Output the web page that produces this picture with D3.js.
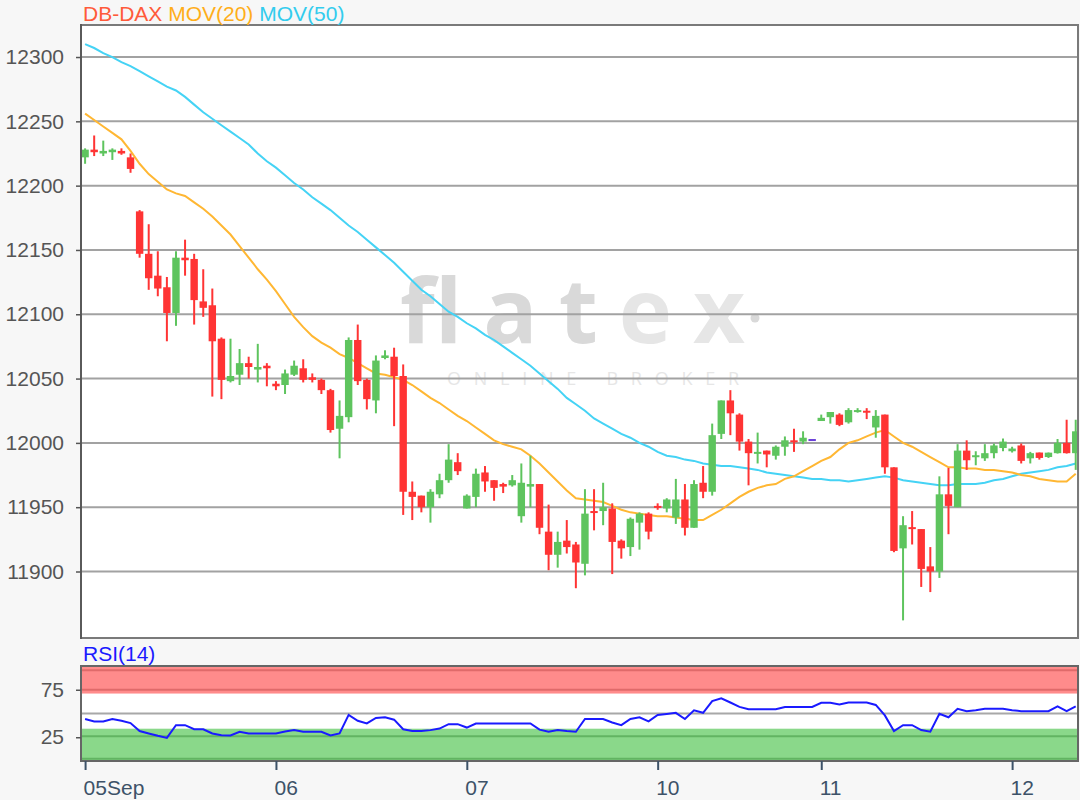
<!DOCTYPE html>
<html>
<head>
<meta charset="utf-8">
<script src="https://cdn.jsdelivr.net/npm/d3@7"></script>
<style>
body { margin: 0; background: #f7f7f7; }
svg { display: block; font-family: "Liberation Sans", Arial, sans-serif; }
</style>
</head>
<body>
<svg width="1080" height="800"></svg>
<script>
// half-hourly candles, DB-DAX 05-12 Sep
var opens = [
  12222,12228,12225,12226,12227,12222,12180,12147,12130,12121,
  12101,12144,12143,12110,12107,12081,12048,12053,12062,12057,
  12060,12046,12045,12053,12058,12051,12049,12041,12011,12020,
  12080,12049,12033,12066,12067,12052,11962,11959,11950,11960,
  11971,11985,11949,11958,11977,11971,11968,11967,11943,11966,
  11968,11931,11913,11924,11921,11906,11947,11947,11949,11924,
  11919,11938,11945,11951,11949,11942,11956,11934,11969,11962,
  12007,12033,12022,12001,11992,11994,11990,11997,12002,12001,
  12003,12017,12020,12022,12016,12024,12025,12012,12022,11981,
  11918,11934.5,11933,11904,11900,11960,11950,11994,11989,11988,
  11992,11996,11993.5,11998,11988,11992.5,11989,11992,12000,11992];
var highs = [
  12229,12239,12235,12229,12229,12225,12181,12170,12149,12129,
  12149,12158,12147,12135,12120,12082,12081,12073,12067,12077,
  12062,12048,12057,12064,12065,12054,12050,12042,12033,12082,
  12092,12050,12068,12072,12074,12061,11970,11959,11964,11976,
  11999,11992,11960,11980,11982,11971,11969,11975,11984,11990,
  11968,11952,11931,11940,11923,11964,11964,11969,11953,11925,
  11942,11946,11946,11953,11957,11972,11968,11971,11982,12015,
  12033,12041,12023,12003,12008,11994,11998,12005,12011,12009,
  12003,12022,12024,12023,12027,12027,12027,12025.5,12022,11981,
  11943,11947,11933,11919,11974,11980.5,11999,12002,11993.5,11999,
  11999.5,12003.4,11997,11999.5,11993,11992.5,11992.5,12003,12018,12018];
var lows = [
  12217,12223,12223,12220,12224,12210,12144,12119,12114,12079,
  12091,12130,12092,12098,12036,12034,12047,12045,12050,12047,
  12044,12041,12038,12052,12047,12047,12038,12008,11988,12016,
  12045,12026,12023,12065,12013,11944,11940,11946,11938,11957,
  11969,11975,11949,11950,11962,11955,11961,11966,11938,11950,
  11929,11901,11903,11914,11887,11897,11932,11936,11898,11910,
  11912,11917,11925,11948,11946,11937,11928,11934,11957,11959,
  12003,12006,11994,11967,11984,11981,11987,11990,11993,11999,
  12003,12017,12015,12013,12015,12023.5,12018.5,12004,11976,11915,
  11862,11921,11888,11884,11895,11929,11950,11979,11982.6,11986,
  11988,11993.5,11992.5,11984,11984,11987,11988.3,11991.7,11991.7,11979];
var closes = [
  12228,12226,12227,12228,12225,12213,12147,12128,12120,12101,
  12144,12142,12111,12105,12079,12049,12052,12062,12059,12059,
  12058,12044,12054,12060,12049,12049,12041,12010,12021,12080,
  12048,12034,12064,12068,12052,11962,11958,11950,11962,11971,
  11987,11978,11959,11976,11970,11965,11966,11971,11969,11968,
  11934,11913,11923,11919,11907,11945,11946,11950,11923,11918,
  11941,11945,11931,11950,11956,11956,11934,11968,11962,12006,
  12033,12023,12001,11992,11993,11991,11997,12002,12001,12004,
  12003,12019.5,12024,12014,12025.5,12025.5,12024,12021,11981,11916,
  11936,11933.5,11902,11900,11960,11951,11994,11986.5,11990.4,11992,
  11998,12001,11995.6,11986,11992,11988.3,11992.4,12000,11992,12009];
var mov20 = [
  12256,12251,12246,12241,12236,12227,12217,12209,12203,12197,
  12194,12192,12187,12182,12176,12169,12162,12153,12144,12135,
  12127,12118,12108,12098,12090,12083,12078,12074,12069,12066,
  12062,12058,12054,12053,12051,12049,12045,12040,12035,12031,
  12026,12021,12017,12012,12007,12002,11999,11997,11995,11990,
  11984,11977,11970,11963,11957,11956,11955,11954,11951,11948,
  11946,11945,11944,11943,11943,11942,11941,11940,11940,11944,
  11948,11953,11958,11962,11965,11967,11968,11972,11974,11978,
  11982,11986,11989,11995,12000,12002,12005,12008,12010,12005,
  12000,11997,11993,11989,11985,11981,11981,11980,11980,11979,
  11979,11978,11977,11975,11974,11972,11971,11970,11970,11976];
var mov50 = [
  12310,12307,12303,12300,12296,12293,12289,12285,12281,12277,
  12274,12269,12263,12257,12252,12247,12242,12237,12232,12225,
  12219,12214,12208,12202,12197,12191,12186,12181,12175,12169,
  12164,12158,12152,12146,12140,12133,12126,12119,12114,12108,
  12102,12098,12093,12089,12084,12080,12075,12070,12065,12060,
  12054,12048,12042,12035,12030,12025,12019,12015,12011,12007,
  12004,12000,11997,11993,11990,11989,11987,11986,11984,11983,
  11982,11982,11981,11980,11979,11977,11976,11975,11974,11973,
  11972,11972,11971,11971,11970,11971,11972,11973,11974,11973,
  11971,11970,11969,11968,11967,11967,11968,11968,11968,11969,
  11971,11972,11974,11976,11977,11978,11979,11981,11982,11984];
var rsi14 = [
  44.2,41.7,41.7,44.2,42.4,39.9,31.6,29.0,26.5,24.3,
  37.7,37.7,33.4,33.4,29.0,27.2,26.8,30.8,29.0,29.0,
  29.0,29.0,31.0,32.6,30.8,30.8,30.8,26.8,29.0,48.5,
  42.4,39.5,45.3,46.0,43.5,33.4,31.6,31.6,32.5,34.1,
  38.8,38.8,35.2,39.5,39.5,39.5,39.5,39.5,39.5,39.5,
  33.0,30.8,32.6,31.5,30.8,44.2,44.2,44.2,40.6,37.7,
  44.2,46.0,41.7,48.5,49.5,50.7,44.2,53.3,50.7,63.0,
  66.0,61.6,57.0,54.4,54.4,54.4,54.4,56.9,56.9,56.9,
  56.9,61.3,61.3,59.5,61.6,61.6,61.6,59.0,48.0,31.6,
  37.7,37.7,32.6,30.8,49.7,46.0,55.0,52.5,53.5,55.0,
  55.0,55.0,53.5,52.5,52.5,52.5,52.5,57.6,52.5,57.6];

var dayTicks = [0, 21, 42, 63, 81, 102];
var dayLabels = ["05Sep", "06", "07", "10", "11", "12"];
var priceTicks = [11900, 11950, 12000, 12050, 12100, 12150, 12200, 12250, 12300];
var rsiTicks = [25, 75];
var rsiUpperZone = [71, 100], rsiUpperLines = [75, 95.5];
var rsiLowerZone = [0, 34], rsiLowerLines = [26, 2.5];

var svg = d3.select("svg");
var left = 81, right = 1078;
var top1 = 25, bottom1 = 638;
var top2 = 666, bottom2 = 761;

var candles = opens.map(function(o, i) {
  return {i: i, open: o, high: highs[i], low: lows[i], close: closes[i]};
});

var x = d3.scaleLinear().domain([-0.45, candles.length - 0.75]).range([left, right]);
var y = d3.scaleLinear().domain([11848.3, 12324.9]).range([bottom1, top1]);
var yr = d3.scaleLinear().domain([0, 100]).range([bottom2, top2]);

function candleColor(d) {
  if (d.close > d.open) return "#5ec45e";
  if (d.close < d.open) return "#ff3434";
  return "#6a3fd8";
}

svg.append("defs").append("clipPath").attr("id", "clipMain")
  .append("rect").attr("x", left).attr("y", top1)
  .attr("width", right - left).attr("height", bottom1 - top1);

// ---- main panel ----
svg.append("rect")
  .attr("x", left).attr("y", top1)
  .attr("width", right - left).attr("height", bottom1 - top1)
  .attr("fill", "#fff");

// watermark
var wm = svg.append("g").attr("font-family", "'Open Sans', sans-serif");
var logo = wm.append("text")
  .attr("x", 400).attr("y", 343)
  .attr("font-size", 90)
  .attr("font-weight", "bold")
  .attr("textLength", 345).attr("lengthAdjust", "spacing")
  .attr("fill", "#d9d9d9");
logo.append("tspan").text("flat");
logo.append("tspan").attr("fill", "#e6e6e6").text("ex");
wm.append("circle").attr("cx", 755).attr("cy", 318).attr("r", 4.5).attr("fill", "#d9d9d9");
wm.append("text")
  .attr("x", 447).attr("y", 385)
  .attr("font-size", 18)
  .attr("textLength", 292).attr("lengthAdjust", "spacing")
  .attr("fill", "#e6e6e6")
  .text("ONLINE BROKER");

svg.append("g").attr("class", "grid")
  .selectAll("line")
  .data(priceTicks)
  .enter().append("line")
    .attr("x1", left).attr("x2", right)
    .attr("y1", function(d) { return y(d); })
    .attr("y2", function(d) { return y(d); })
    .attr("stroke", "#a2a2a2")
    .attr("stroke-width", 2);

var plot = svg.append("g").attr("clip-path", "url(#clipMain)");

var line = d3.line()
  .x(function(d, i) { return x(i); })
  .y(function(d) { return y(d); });

plot.append("path").datum(mov50)
  .attr("d", line).attr("fill", "none")
  .attr("stroke", "#45d3f5").attr("stroke-width", 2);
plot.append("path").datum(mov20)
  .attr("d", line).attr("fill", "none")
  .attr("stroke", "#ffb733").attr("stroke-width", 2);

var candle = plot.append("g").attr("class", "candles")
  .selectAll("g")
  .data(candles)
  .enter().append("g");

candle.append("line")
  .attr("x1", function(d) { return x(d.i); })
  .attr("x2", function(d) { return x(d.i); })
  .attr("y1", function(d) { return y(d.high); })
  .attr("y2", function(d) { return y(d.low); })
  .attr("stroke", candleColor)
  .attr("stroke-width", 2);

candle.append("rect")
  .attr("x", function(d) { return x(d.i) - 3.7; })
  .attr("width", 7.4)
  .attr("y", function(d) { return y(Math.max(d.open, d.close)); })
  .attr("height", function(d) {
    return Math.max(2, Math.abs(y(d.open) - y(d.close)));
  })
  .attr("fill", candleColor);

// frame
svg.append("rect")
  .attr("x", left).attr("y", top1)
  .attr("width", right - left).attr("height", bottom1 - top1)
  .attr("fill", "none").attr("stroke", "#7a7a7a").attr("stroke-width", 2);
svg.append("line")
  .attr("x1", left).attr("x2", left).attr("y1", top1 - 1).attr("y2", bottom1 + 1)
  .attr("stroke", "#5a5a5a").attr("stroke-width", 2);

var yAxis = svg.append("g")
  .attr("transform", "translate(" + left + ",0)")
  .call(d3.axisLeft(y).tickValues(priceTicks).tickFormat(d3.format("d"))
    .tickSize(5).tickPadding(12));
yAxis.select(".domain").remove();
yAxis.selectAll("line").attr("stroke", "#555").attr("stroke-width", 1.5);
yAxis.selectAll("text")
  .attr("fill", "#555")
  .style("font-size", "21px")
  .style("font-family", "'Liberation Sans', Arial, sans-serif");

// legend
var legend = svg.append("text")
  .attr("x", 83).attr("y", 21)
  .style("font-size", "21px");
legend.append("tspan").attr("fill", "#ff5a3a").text("DB-DAX ");
legend.append("tspan").attr("fill", "#ffae1a").text("MOV(20) ");
legend.append("tspan").attr("fill", "#33ccee").text("MOV(50)");

// ---- RSI panel ----
svg.append("rect")
  .attr("x", left).attr("y", top2)
  .attr("width", right - left).attr("height", bottom2 - top2)
  .attr("fill", "#fff");

svg.append("rect")
  .attr("x", left).attr("width", right - left)
  .attr("y", yr(rsiUpperZone[1]))
  .attr("height", yr(rsiUpperZone[0]) - yr(rsiUpperZone[1]))
  .attr("fill", "#ff8b8b");
svg.append("rect")
  .attr("x", left).attr("width", right - left)
  .attr("y", yr(rsiLowerZone[1]))
  .attr("height", yr(rsiLowerZone[0]) - yr(rsiLowerZone[1]))
  .attr("fill", "#8ad88a");

function hLines(values, color) {
  svg.append("g").selectAll("line")
    .data(values)
    .enter().append("line")
      .attr("x1", left).attr("x2", right)
      .attr("y1", function(d) { return yr(d); })
      .attr("y2", function(d) { return yr(d); })
      .attr("stroke", color).attr("stroke-width", 2);
}
hLines(rsiUpperLines, "#e06a6a");
hLines(rsiLowerLines, "#62b462");
hLines([50], "#a8a8a8");

svg.append("path").datum(rsi14)
  .attr("d", d3.line()
    .x(function(d, i) { return x(i); })
    .y(function(d) { return yr(d); }))
  .attr("fill", "none")
  .attr("stroke", "#1a1aff")
  .attr("stroke-width", 2);

svg.append("rect")
  .attr("x", left).attr("y", top2)
  .attr("width", right - left).attr("height", bottom2 - top2)
  .attr("fill", "none").attr("stroke", "#666").attr("stroke-width", 2);

var rAxis = svg.append("g")
  .attr("transform", "translate(" + left + ",0)")
  .call(d3.axisLeft(yr).tickValues(rsiTicks).tickSize(5).tickPadding(12));
rAxis.select(".domain").remove();
rAxis.selectAll("line").attr("stroke", "#555").attr("stroke-width", 1.5);
rAxis.selectAll("text")
  .attr("fill", "#555")
  .style("font-size", "21px")
  .style("font-family", "'Liberation Sans', Arial, sans-serif");

svg.append("text")
  .attr("x", 83).attr("y", 661)
  .attr("fill", "#1a1aff")
  .style("font-size", "21px")
  .text("RSI(14)");

var xAxis = svg.append("g")
  .attr("transform", "translate(0," + bottom2 + ")")
  .call(d3.axisBottom(x).tickValues(dayTicks)
    .tickFormat(function(d, k) { return dayLabels[k]; })
    .tickSize(9));
xAxis.select(".domain").remove();
xAxis.selectAll("line").attr("stroke", "#3d5268").attr("stroke-width", 2);
xAxis.selectAll("text")
  .attr("fill", "#3d5268")
  .attr("text-anchor", "start")
  .attr("x", -2).attr("y", 34).attr("dy", 0)
  .style("font-size", "21px")
  .style("font-family", "'Liberation Sans', Arial, sans-serif");
</script>
</body>
</html>
